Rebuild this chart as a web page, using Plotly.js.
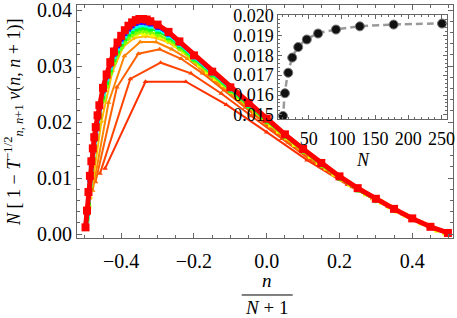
<!DOCTYPE html>
<html><head><meta charset="utf-8">
<script src="https://cdn.plot.ly/plotly-3.0.1.min.js"></script>
<style>html,body{margin:0;padding:0;background:#fff}#c{width:457px;height:318px}</style>
</head><body><div id="c"></div>
<script>
// ---- data ----
// main plot: N[1 - T^-1/2 v(n,n+1)] vs n/(N+1); series for several chain sizes N
const sizesFull = [8, 11, 16, 22, 32, 45];
const v8  = [0.0117, 0.0272, 0.0272, 0.0231, 0.0182, 0.0132, 0.0088, 0.0049, 0.0014];
const v11 = [0.0108, 0.0277, 0.0306, 0.0287, 0.0251, 0.0211, 0.0170, 0.0130, 0.0095, 0.0063, 0.0035, 0.0010];
const v16 = [0.0093, 0.0262, 0.0322, 0.0330, 0.0313, 0.0287, 0.0257, 0.0226, 0.0195, 0.0164, 0.0136, 0.0109, 0.0084, 0.0063, 0.0043, 0.0024, 0.0007];
const v22 = [0.0078, 0.0235, 0.0318, 0.0343, 0.0343, 0.0330, 0.0313, 0.0290, 0.0268, 0.0245, 0.0221, 0.0198, 0.0175, 0.0153, 0.0132, 0.0112, 0.0093, 0.0076, 0.0059, 0.0045, 0.0030, 0.0017, 0.0006];
const v32 = [0.0063, 0.0200, 0.0290, 0.0335, 0.0350, 0.0353, 0.0350, 0.0343, 0.0330, 0.0315, 0.0298, 0.0282, 0.0266, 0.0250, 0.0233, 0.0217, 0.0200, 0.0184, 0.0168, 0.0153, 0.0138, 0.0123, 0.0109, 0.0096, 0.0083, 0.0071, 0.0060, 0.0050, 0.0039, 0.0029, 0.0020, 0.0011, 0.0004];
const v45 = [0.0048, 0.0188, 0.0258, 0.0305, 0.0336, 0.0351, 0.0357, 0.0358, 0.0356, 0.0352, 0.0346, 0.0337, 0.0326, 0.0314, 0.0302, 0.0290, 0.0278, 0.0267, 0.0255, 0.0244, 0.0231, 0.0219, 0.0207, 0.0195, 0.0184, 0.0172, 0.0160, 0.0149, 0.0139, 0.0128, 0.0118, 0.0107, 0.0098, 0.0089, 0.0080, 0.0072, 0.0064, 0.0057, 0.0049, 0.0041, 0.0034, 0.0027, 0.0020, 0.0014, 0.0007, 0.0002];

// large N series, sampled on a grid of n/(N+1) values (plus their end points)
const sizesDense = [64, 90, 128, 181, 256];
const grid = [-0.494, -0.49, -0.486, -0.482, -0.478, -0.474, -0.47, -0.465, -0.46, -0.45, -0.44, -0.43, -0.42, -0.41, -0.40, -0.39, -0.38, -0.37, -0.36, -0.35, -0.34, -0.33, -0.32, -0.30, -0.27, -0.24, -0.20, -0.15, -0.10, -0.05, 0, 0.05, 0.10, 0.15, 0.20, 0.25, 0.30, 0.35, 0.40, 0.45];
const g64  = [null, 0.0050, 0.0078, 0.0104, 0.0128, 0.0149, 0.0168, 0.0189, 0.0207, 0.0238, 0.0264, 0.0286, 0.0305, 0.0320, 0.0332, 0.0342, 0.0350, 0.0356, 0.0360, 0.0362, 0.0363, 0.0362, 0.0361, 0.0356, 0.0347, 0.0332, 0.0310, 0.0283, 0.0255, 0.0228, 0.0201, 0.0174, 0.0148, 0.0123, 0.0100, 0.0079, 0.0060, 0.0043, 0.0027, 0.0012];
const g90  = [0.0029, 0.0056, 0.0085, 0.0111, 0.0135, 0.0156, 0.0175, 0.0196, 0.0214, 0.0245, 0.0271, 0.0293, 0.0312, 0.0327, 0.0339, 0.0349, 0.0357, 0.0362, 0.0366, 0.0368, 0.0369, 0.0368, 0.0366, 0.0362, 0.0351, 0.0336, 0.0313, 0.0285, 0.0257, 0.0229, 0.0202, 0.0175, 0.0149, 0.0124, 0.0100, 0.0079, 0.0061, 0.0044, 0.0027, 0.0012];
const g128 = [0.0032, 0.0062, 0.0091, 0.0117, 0.0141, 0.0162, 0.0181, 0.0202, 0.0220, 0.0251, 0.0277, 0.0298, 0.0317, 0.0332, 0.0344, 0.0354, 0.0362, 0.0367, 0.0371, 0.0373, 0.0374, 0.0373, 0.0371, 0.0366, 0.0354, 0.0339, 0.0315, 0.0287, 0.0259, 0.0231, 0.0204, 0.0176, 0.0150, 0.0125, 0.0101, 0.0080, 0.0061, 0.0044, 0.0027, 0.0013];
const g181 = [0.0037, 0.0068, 0.0097, 0.0123, 0.0147, 0.0168, 0.0186, 0.0207, 0.0225, 0.0256, 0.0281, 0.0302, 0.0321, 0.0336, 0.0348, 0.0358, 0.0366, 0.0372, 0.0376, 0.0378, 0.0378, 0.0377, 0.0375, 0.0369, 0.0357, 0.0341, 0.0317, 0.0289, 0.0261, 0.0233, 0.0205, 0.0177, 0.0151, 0.0126, 0.0102, 0.0081, 0.0062, 0.0045, 0.0028, 0.0013];
const g256 = [0.0042, 0.0075, 0.0104, 0.0130, 0.0153, 0.0173, 0.0191, 0.0212, 0.0230, 0.0261, 0.0285, 0.0307, 0.0326, 0.0342, 0.0354, 0.0364, 0.0372, 0.0378, 0.0382, 0.0384, 0.0384, 0.0383, 0.0380, 0.0374, 0.0361, 0.0344, 0.0319, 0.0290, 0.0262, 0.0234, 0.0206, 0.0178, 0.0152, 0.0127, 0.0103, 0.0082, 0.0063, 0.0045, 0.0028, 0.0013];
const firstDense = [0.0035, 0.0025, 0.0018, 0.0014, 0.0012];
const lastDense  = [0.0002, 0.0002, 0.0001, 0.0001, 0.0002];

// inset: value vs N
const insetN = [11, 14, 19, 25, 34, 47, 64, 91, 127, 178, 251];
const insetV = [0.01495, 0.01609, 0.01712, 0.01788, 0.01841, 0.01879, 0.01909, 0.01929, 0.01945, 0.01954, 0.01959];
const fitN = [9, 11, 13, 16, 20, 26, 35, 48, 65, 91, 127, 178, 258];
const fitV = [0.01478, 0.01495, 0.01580, 0.01660, 0.01728, 0.01795, 0.01845, 0.01882, 0.01910, 0.01929, 0.01945, 0.01954, 0.01961];

// ---- styles ----
const colFull  = ['#ff3000', '#ff4600', '#ff6000', '#ff8400', '#ffbf00', '#f2ff00'];
const colDense = ['#80ff00', '#00ff26', '#00ffff', '#4000ff', '#ff0000'];
const symFull  = ['triangle-up', 'triangle-up', 'triangle-up', 'triangle-up', 'triangle-down', 'square'];
const symDense = ['diamond', 'square', 'square', 'square', 'square'];

const fullVals = [v8, v11, v16, v22, v32, v45];
const denseVals = [g64, g90, g128, g181, g256];
const traces = [];
sizesFull.forEach((N, i) => {
  const v = fullVals[i];
  traces.push({
    type: 'scatter', mode: 'lines+markers',
    x: v.map((_, k) => (k - N / 2) / (N + 1)), y: v,
    line: {color: colFull[i], width: 2},
    marker: {color: colFull[i], size: 5, symbol: symFull[i]},
    hoverinfo: 'skip'
  });
});
sizesDense.forEach((N, i) => {
  const x0 = -N / 2 / (N + 1), x1 = N / 2 / (N + 1);
  const xs = [x0], ys = [firstDense[i]];
  grid.forEach((g, j) => { if (denseVals[i][j] !== null && g > x0) { xs.push(g); ys.push(denseVals[i][j]); } });
  xs.push(x1); ys.push(lastDense[i]);
  const red = (N === 256);
  traces.push({
    type: 'scatter', mode: 'lines+markers', x: xs, y: ys,
    line: {color: colDense[i], width: red ? 5 : 2},
    marker: {color: colDense[i], size: red ? 8 : 5, symbol: symDense[i]},
    hoverinfo: 'skip'
  });
});
traces.push({
  type: 'scatter', mode: 'lines', x: fitN, y: fitV, xaxis: 'x2', yaxis: 'y2',
  line: {color: '#9a9a9a', width: 2.5, dash: '7px,4px', shape: 'spline', smoothing: 0.8},
  hoverinfo: 'skip'
});
traces.push({
  type: 'scatter', mode: 'markers', x: insetN, y: insetV, xaxis: 'x2', yaxis: 'y2',
  marker: {color: '#111', size: 9, line: {color: '#777', width: 1}},
  hoverinfo: 'skip'
});

const serif = '"Liberation Serif", "Times New Roman", serif';
const axBase = {
  showline: true, mirror: 'allticks', linecolor: '#666', linewidth: 1,
  ticks: 'inside', ticklen: 5, tickcolor: '#666', tickwidth: 1,
  showgrid: false, zeroline: false, ticklabeloverflow: 'allow',
  tickfont: {family: serif, size: 20, color: '#000'}
};
const layout = {
  width: 457, height: 318, margin: {l: 77, r: 4, t: 5, b: 80},
  paper_bgcolor: '#fff', plot_bgcolor: '#fff', showlegend: false,
  font: {family: serif},
  xaxis: Object.assign({}, axBase, {range: [-0.5215, 0.512], dtick: 0.2, tick0: 0, tickformat: '.1f',
    ticklabelstandoff: 5,
    minor: {dtick: 0.05, ticks: 'inside', ticklen: 3, tickcolor: '#666'}}),
  yaxis: Object.assign({}, axBase, {range: [-0.0007, 0.0409], dtick: 0.01, tick0: 0, tickformat: '.2f',
    minor: {dtick: 0.002, ticks: 'inside', ticklen: 3, tickcolor: '#666'}}),
  xaxis2: Object.assign({}, axBase, {domain: [0.5354, 0.9832], anchor: 'y2', range: [4, 258], dtick: 50, tick0: 0,
    ticklen: 4, tickfont: {family: serif, size: 18, color: '#000'}, ticklabelstandoff: 3,
    minor: {dtick: 10, ticks: 'inside', ticklen: 2, tickcolor: '#666'}}),
  yaxis2: Object.assign({}, axBase, {domain: [0.5094, 0.957], anchor: 'x2', range: [0.01478, 0.02002], dtick: 0.001, tick0: 0,
    tickformat: '.3f', ticklen: 4, tickfont: {family: serif, size: 18, color: '#000'},
    minor: {dtick: 0.0002, ticks: 'inside', ticklen: 2, tickcolor: '#666'}}),
  annotations: [
    {xref: 'paper', yref: 'paper', x: -0.1676, y: 0.498, textangle: -90, showarrow: false,
     xanchor: 'center', yanchor: 'middle',
     font: {family: serif, size: 18, color: '#000'},
     text: '<i>N</i> [ 1 − <i>T</i><sup>−1/2</sup><sub><i>n</i>, <i>n</i>+1</sub> <i>v</i>(<i>n</i>, <i>n</i> + 1)]'},
    {xref: 'paper', yref: 'paper', x: 0.5045, y: -0.1845, showarrow: false, xanchor: 'center', yanchor: 'middle',
     font: {family: serif, size: 19, color: '#000'}, text: '<i>n</i>'},
    {xref: 'paper', yref: 'paper', x: 0.5045, y: -0.3004, showarrow: false, xanchor: 'center', yanchor: 'middle',
     font: {family: serif, size: 19, color: '#000'}, text: '<i>N</i> + 1'},
    {xref: 'paper', yref: 'paper', x: 0.7614, y: 0.3348, showarrow: false, xanchor: 'center', yanchor: 'middle',
     font: {family: serif, size: 18, color: '#000'}, text: '<i>N</i>'}
  ],
  shapes: [
    {type: 'line', xref: 'paper', yref: 'paper', x0: 0.438, x1: 0.5737, y0: -0.2446, y1: -0.2446,
     line: {color: '#000', width: 1}}
  ]
};
Plotly.newPlot('c', traces, layout, {staticPlot: true, displayModeBar: false});
</script></body></html>
